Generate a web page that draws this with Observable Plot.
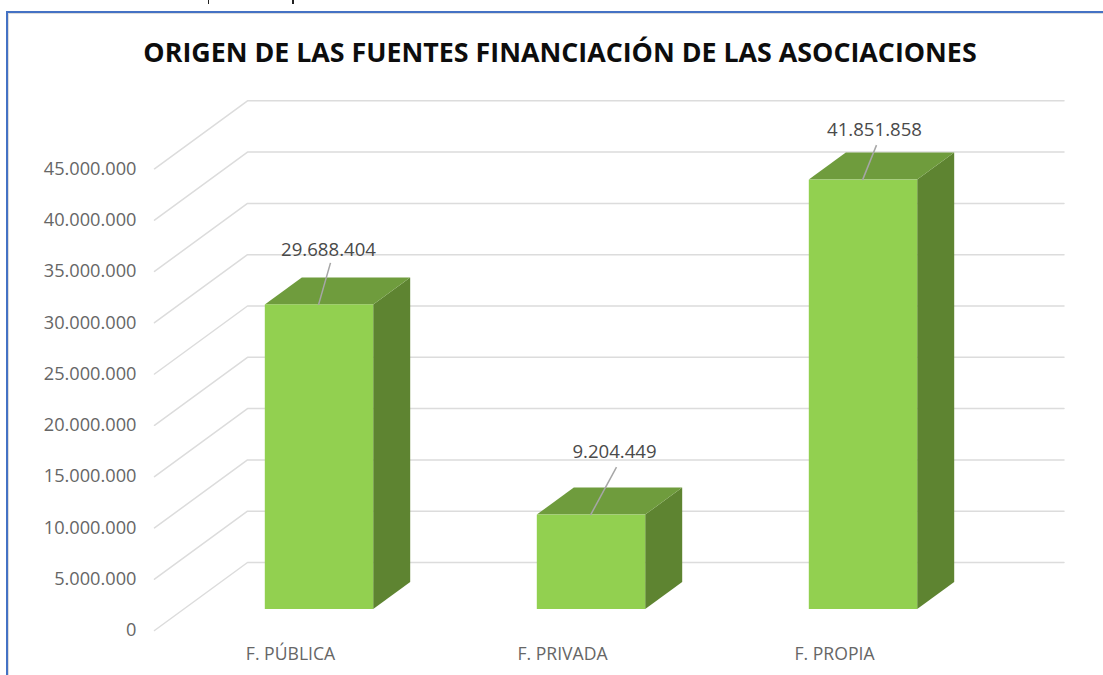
<!DOCTYPE html>
<html lang="es">
<head>
<meta charset="utf-8">
<script src="https://cdn.jsdelivr.net/npm/d3@7"></script>
<script src="https://cdn.jsdelivr.net/npm/@observablehq/plot@0.6"></script>
<style>
  html, body { margin: 0; padding: 0; background: #fff; overflow: hidden; }
  body { width: 1103px; height: 675px; position: relative; font-family: "Open Sans", sans-serif; }
  #frame { position: absolute; left: 6px; top: 11px; right: 0; bottom: -5px; border-left: 2px solid #4472c4; border-top: 2px solid #4472c4; }
  #frame::after { content: ""; position: absolute; inset: 0; border-left: 1px solid #dcdcdc; border-top: 1px solid #dcdcdc; }
  .stub { position: absolute; top: 0; width: 1.5px; height: 4px; background: #222; }
  #head { position: relative; height: 90px; }
  #title { position: absolute; left: 0; right: 0; top: 33px; margin: 0; text-align: center; font: 700 26.8px/38px "Open Sans", sans-serif; color: #0d0d0d; padding-left: 17px; white-space: nowrap; }
  #chart { position: relative; }
  #chart svg { display: block; }
</style>
</head>
<body>
<div id="frame"></div>
<div class="stub" style="left:207.5px"></div>
<div class="stub" style="left:292px"></div>
<div id="head"><h1 id="title">ORIGEN DE LAS FUENTES FINANCIACIÓN DE LAS ASOCIACIONES</h1></div>
<div id="chart"></div>
<script>
const categories = ["F. PÚBLICA", "F. PRIVADA", "F. PROPIA"];
const values = [29688404, 9204449, 41851858];
const yTicks = [0, 5e6, 10e6, 15e6, 20e6, 25e6, 30e6, 35e6, 40e6, 45e6];

// pixels -> data units of the two scales
const X_STEP = 272, Y_STEP = 51.3;
const px = p => p / X_STEP;
const py = p => p * 5e6 / Y_STEP;

const fmt = d3.formatLocale({decimal: ",", thousands: ".", grouping: [3], currency: ["", ""]}).format(",");

// oblique projection constants
const wallX = px(93), wallY = py(68), wallStart = px(-165), wallEnd = px(744.5);
const halfBar = px(54.2), barDX = px(37), barDY = py(27), baseY = py(21);
const leaderShift = [[11, 42], [25, 48], [13, 35]];
const labelDy = [-13, -15, -15];

const gridLines = yTicks.flatMap(v => [
  {v, x: wallStart, y: v},
  {v, x: wallStart + wallX, y: v + wallY},
  {v, x: wallEnd, y: v + wallY}
]);

const front = values.map((v, i) => ({i, x1: i - halfBar, x2: i + halfBar, y1: baseY, y2: v + baseY}));
const side = values.flatMap((v, i) => [
  {i, x: i + halfBar, y1: baseY, y2: v + baseY},
  {i, x: i + halfBar + barDX, y1: baseY + barDY, y2: v + baseY + barDY}
]);
const top_ = values.flatMap((v, i) => {
  const t = v + baseY;
  return [
    {i, x: i - halfBar, y1: t, y2: t},
    {i, x: i - halfBar + barDX, y1: t, y2: t + barDY},
    {i, x: i + halfBar, y1: t, y2: t + barDY},
    {i, x: i + halfBar + barDX, y1: t + barDY, y2: t + barDY}
  ];
});
const leaders = values.map((v, i) => ({
  i, v,
  x1: i - px(1),
  y1: v + baseY,
  x2: i + px(leaderShift[i][0]),
  y2: v + baseY + py(leaderShift[i][1])
}));

const plot = Plot.plot({
  width: 1103,
  height: 585,
  marginLeft: 136, marginRight: 0, marginTop: 0, marginBottom: 45,
  x: {type: "linear", domain: [0, 2], range: [319, 319 + 2 * X_STEP]},
  y: {type: "linear", domain: [0, 45e6], range: [540, 540 - 9 * Y_STEP]},
  style: {fontFamily: "'Open Sans', sans-serif", fontSize: "18px", background: "transparent", overflow: "visible"},
  marks: [
    Plot.line(gridLines, {x: "x", y: "y", z: "v", stroke: "#dcdcdc", strokeWidth: 1.5}),
    Plot.area(side, {x1: "x", y1: "y1", y2: "y2", z: "i", fill: "#5e8431", curve: "linear"}),
    Plot.area(top_, {x1: "x", y1: "y1", y2: "y2", z: "i", fill: "#6f9c3d", curve: "linear"}),
    Plot.rect(front, {x1: "x1", x2: "x2", y1: "y1", y2: "y2", fill: "#92d050", inset: 0}),
    Plot.link(leaders, {x1: "x1", y1: "y1", x2: "x2", y2: "y2", stroke: "#a6a6a6", strokeWidth: 1.5}),
    ...leaders.map((d, k) => Plot.text([d], {
      x: "x2", y: "y2", text: e => fmt(e.v), dy: labelDy[k], dx: -2,
      fill: "#4a4a4a", fontSize: 18.6
    })),
    Plot.axisY({ticks: yTicks, tickFormat: fmt, tickSize: 0, tickPadding: 0, label: null, color: "#666666", fontSize: 18.2, anchor: "left"}),
    Plot.axisX({ticks: [0, 1, 2], tickFormat: i => categories[i], tickSize: 0, tickPadding: 17, dx: -29, label: null, color: "#666666", fontSize: 17.6, anchor: "bottom"})
  ]
});
document.getElementById("chart").appendChild(plot);
</script>
</body>
</html>
